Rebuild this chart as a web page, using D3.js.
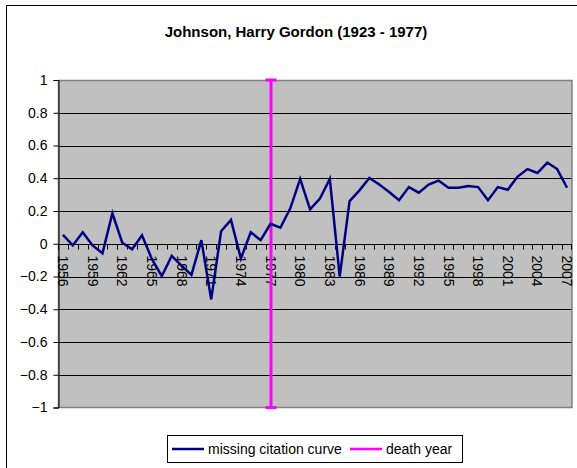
<!DOCTYPE html>
<html>
<head>
<meta charset="utf-8">
<script src="https://cdn.jsdelivr.net/npm/d3@7"></script>
<style>
  body { margin: 0; background: #fff; }
  svg { display: block; font-family: Arial, "Liberation Sans", sans-serif; }
</style>
</head>
<body>
<svg id="chart" width="577" height="468"></svg>
<script>
const title = "Johnson, Harry Gordon (1923 - 1977)";
const years = [1956,1957,1958,1959,1960,1961,1962,1963,1964,1965,1966,1967,1968,1969,1970,
  1971,1972,1973,1974,1975,1976,1977,1978,1979,1980,1981,1982,1983,1984,1985,1986,1987,
  1988,1989,1990,1991,1992,1993,1994,1995,1996,1997,1998,1999,2000,2001,2002,2003,2004,
  2005,2006,2007];
const citationValues = [0.054,-0.01,0.07,-0.01,-0.058,0.186,0.006,-0.034,0.052,-0.094,-0.198,
  -0.074,-0.134,-0.19,0.022,-0.34,0.076,0.146,-0.09,0.07,0.022,0.122,0.098,0.216,0.396,0.21,
  0.276,0.396,-0.2,0.26,0.326,0.402,0.362,0.316,0.266,0.346,0.312,0.362,0.386,0.342,0.342,
  0.352,0.346,0.266,0.346,0.33,0.41,0.456,0.432,0.496,0.456,0.342];
const yTicks = [-1,-0.8,-0.6,-0.4,-0.2,0,0.2,0.4,0.6,0.8,1];
const xLabelYears = [1956,1959,1962,1965,1968,1971,1974,1977,1980,1983,1986,1989,1992,1995,1998,2001,2004,2007];
const deathYear = 1977;
const deathRange = [-1, 1];
const legendLabels = ["missing citation curve", "death year"];

const svg = d3.select("#chart");
const L = 58, R = 572, T = 80, B = 407.5;
const FS = 14;

// outer border
svg.append("rect").attr("x", 6.5).attr("y", 5.5).attr("width", 700).attr("height", 700)
  .attr("fill", "#fff").attr("stroke", "#000").attr("stroke-width", 1);

const x = d3.scaleBand().domain(years).range([L, R]).padding(0);
const y = d3.scaleLinear().domain([-1, 1]).range([B, T]);
const cx = d => x(d) + x.bandwidth() / 2;

// plot area
svg.append("rect").attr("x", L).attr("y", T).attr("width", R - L).attr("height", B - T)
  .attr("fill", "#C0C0C0");

// gridlines
svg.append("g").selectAll("line").data(yTicks.filter(v => v !== 0 && Math.abs(v) !== 1))
  .join("line")
  .attr("x1", L).attr("x2", R)
  .attr("y1", d => Math.round(y(d)) + 0.5).attr("y2", d => Math.round(y(d)) + 0.5)
  .attr("stroke", "#000").attr("stroke-width", 1);

// plot border
svg.append("rect").attr("x", L + 0.5).attr("y", T + 0.5).attr("width", R - L - 0.5).attr("height", B - T - 0.5)
  .attr("fill", "none").attr("stroke", "#808080").attr("stroke-width", 1.5);

// y axis
const yAxis = d3.axisLeft(y).tickValues(yTicks).tickSize(5).tickPadding(6)
  .tickFormat(d => d3.format("")(+d.toFixed(1)));
const gy = svg.append("g").attr("transform", `translate(${L + 0.5},0)`).call(yAxis);
gy.select(".domain").attr("stroke", "#000");
gy.selectAll(".tick line").attr("stroke", "#000");
gy.selectAll(".tick text").attr("font-size", FS).attr("fill", "#000")
  .attr("font-family", "Arial, 'Liberation Sans', sans-serif");

// x axis (at zero)
const y0 = Math.round(y(0)) + 0.5;
const gx = svg.append("g");
gx.append("line").attr("x1", L).attr("x2", R).attr("y1", y0).attr("y2", y0)
  .attr("stroke", "#000").attr("stroke-width", 1);
gx.selectAll("line.tk").data(years.concat(["end"])).join("line").attr("class", "tk")
  .attr("x1", d => d === "end" ? R - 0.5 : Math.round(x(d)) + 0.5)
  .attr("x2", d => d === "end" ? R - 0.5 : Math.round(x(d)) + 0.5)
  .attr("y1", y0).attr("y2", y0 + 5).attr("stroke", "#000");
gx.selectAll("text").data(xLabelYears).join("text")
  .attr("transform", d => `translate(${cx(d)},${y0 + 11}) rotate(90)`)
  .attr("dy", "0.35em")
  .attr("font-size", FS).attr("fill", "#000")
  .text(d => d);

// death year line
const dx = Math.round(cx(deathYear));
const dg = svg.append("g").attr("stroke", "#FF00FF").attr("stroke-width", 3);
dg.append("line").attr("x1", dx).attr("x2", dx).attr("y1", y(deathRange[0])).attr("y2", y(deathRange[1]));
dg.append("line").attr("x1", dx - 5.5).attr("x2", dx + 5.5).attr("y1", y(deathRange[0])).attr("y2", y(deathRange[0]));
dg.append("line").attr("x1", dx - 5.5).attr("x2", dx + 5.5).attr("y1", y(deathRange[1])).attr("y2", y(deathRange[1]));

// citation curve
const line = d3.line().x((d, i) => cx(years[i])).y(d => y(d));
svg.append("path").datum(citationValues).attr("d", line)
  .attr("fill", "none").attr("stroke", "#000080").attr("stroke-width", 2.5)
  .attr("stroke-linejoin", "miter");

// title
svg.append("text").attr("x", 296).attr("y", 36.5).attr("text-anchor", "middle")
  .attr("font-size", 15).attr("font-weight", "bold").attr("fill", "#000").text(title);

// legend
const lg = svg.append("g");
lg.append("rect").attr("x", 167.5).attr("y", 435.5).attr("width", 295).attr("height", 27)
  .attr("fill", "#fff").attr("stroke", "#000");
lg.append("line").attr("x1", 172).attr("x2", 204).attr("y1", 449).attr("y2", 449)
  .attr("stroke", "#000080").attr("stroke-width", 2.5);
lg.append("text").attr("x", 208).attr("y", 454).attr("font-size", FS).text(legendLabels[0]);
lg.append("line").attr("x1", 350).attr("x2", 382).attr("y1", 449).attr("y2", 449)
  .attr("stroke", "#FF00FF").attr("stroke-width", 2.5);
lg.append("text").attr("x", 386).attr("y", 454).attr("font-size", FS).text(legendLabels[1]);
</script>
</body>
</html>
